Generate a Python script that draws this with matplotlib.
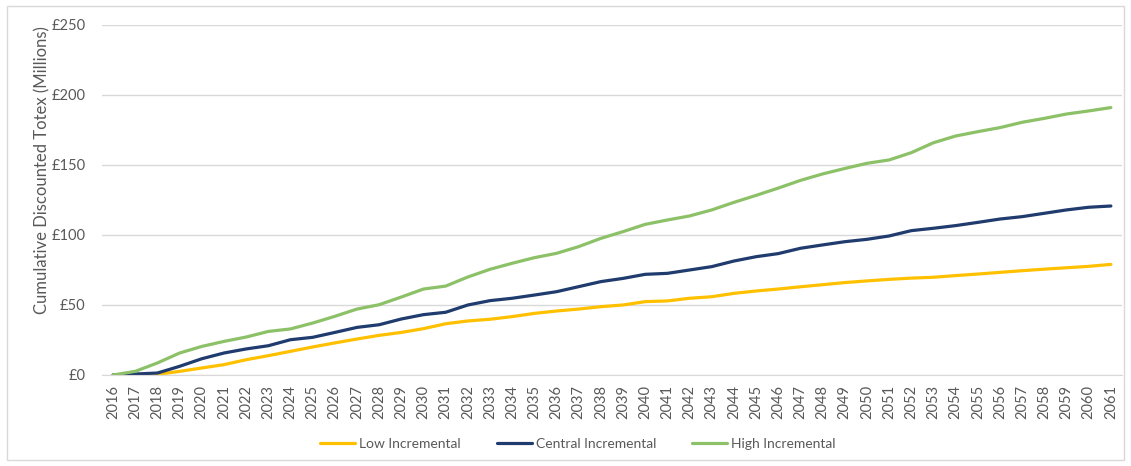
import matplotlib
matplotlib.use("Agg")
import matplotlib.pyplot as plt
from matplotlib.patches import Rectangle
from matplotlib.ticker import FuncFormatter

years = list(range(2016, 2062))

low_incremental = [0, 0, 0.5, 2.6, 5, 7.4, 10.9, 13.8, 16.9, 20, 22.9, 25.7, 28.3, 30.4, 33.1, 36.6,
                   38.6, 39.8, 41.7, 44, 45.7, 47.1, 48.8, 50, 52.4, 52.9, 54.8, 55.9, 58.3, 60, 61.4,
                   63, 64.5, 66, 67.2, 68.3, 69.2, 69.8, 71, 72.1, 73.3, 74.5, 75.6, 76.6, 77.6, 79]
central_incremental = [0, 0.7, 1.4, 6.2, 11.6, 15.7, 18.6, 20.9, 25.2, 26.9, 30.4, 34, 35.9, 40, 43.1, 44.8,
                       50, 53.1, 54.8, 57.1, 59.5, 63.1, 66.7, 69, 71.9, 72.6, 75, 77.4, 81.4, 84.5, 86.7,
                       90.5, 92.9, 95.2, 96.9, 99.3, 103.1, 104.8, 106.7, 109, 111.4, 113.1, 115.5, 117.9, 119.8, 120.7]
high_incremental = [0, 2.6, 8.6, 15.7, 20.4, 24, 27.1, 31.1, 32.9, 37.1, 41.9, 47.1, 50.2, 55.7, 61.4, 63.5,
                    70, 75.5, 79.8, 83.8, 86.9, 91.7, 97.6, 102.4, 107.6, 110.7, 113.6, 117.9, 123.3, 128.3, 133.5,
                    139, 143.6, 147.5, 151.2, 153.6, 158.8, 165.9, 170.7, 173.8, 176.7, 180.5, 183.3, 186.4, 188.6, 191]

series_names = ["Low Incremental", "Central Incremental", "High Incremental"]
y_ticks = [0, 50, 100, 150, 200, 250]

plt.rcParams["font.family"] = ["Lato", "DejaVu Sans"]
text_grey = "#595959"

fig = plt.figure(figsize=(11.31, 4.66), dpi=100)
ax = fig.add_axes([0.0902, 0.1953, 0.9018, 0.7511])

colors = ["#FFC000", "#203B6E", "#8CC168"]
for vals, name, c in zip([low_incremental, central_incremental, high_incremental], series_names, colors):
    ax.plot(years, vals, color=c, lw=2.3, label=name, solid_capstyle="round", solid_joinstyle="round")

ax.set_xlim(years[0] - 0.5, years[-1] + 0.5)
ax.set_ylim(0, 250)
ax.set_yticks(y_ticks)
ax.yaxis.set_major_formatter(FuncFormatter(lambda v, p: f"£{int(v)}"))
ax.set_xticks(years)
ax.set_xticklabels([str(y) for y in years], rotation=90)

ax.grid(axis="y", color="#D9D9D9", lw=1)
ax.set_axisbelow(True)
for s in ["left", "right", "top"]:
    ax.spines[s].set_visible(False)
ax.spines["bottom"].set_color("#D9D9D9")
ax.tick_params(axis="both", length=0, colors=text_grey)
ax.tick_params(axis="y", pad=12, labelsize=10.5)
ax.tick_params(axis="x", pad=7, labelsize=10.5)

ax.set_ylabel("Cumulative Discounted Totex (Millions)", color=text_grey, fontsize=12)
ax.yaxis.set_label_coords(-0.051, 0.586)

leg = fig.legend(loc="center", bbox_to_anchor=(0.511, 0.048), ncol=3, frameon=False,
                 fontsize=10, handlelength=2.5, columnspacing=2.6, handletextpad=0.3)
for t in leg.get_texts():
    t.set_color(text_grey)

fig.patches.append(Rectangle((0.006, 0.013), 0.988, 0.974, transform=fig.transFigure,
                             fill=False, edgecolor="#D9D9D9", lw=1))

fig.savefig("out.png", dpi=100)
